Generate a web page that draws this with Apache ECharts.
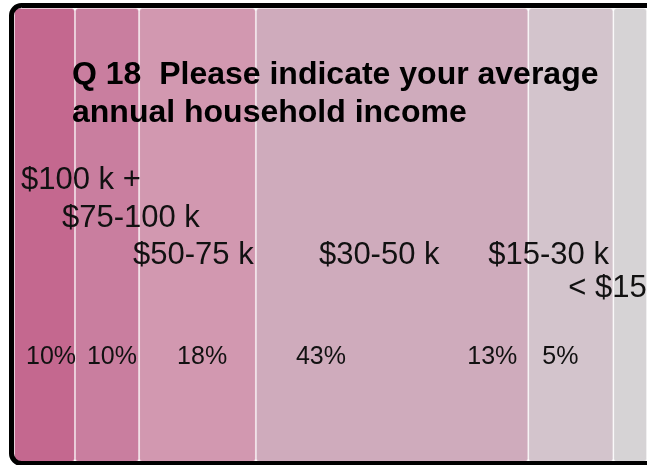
<!DOCTYPE html>
<html lang="en">
  <head>
    <meta charset="UTF-8" />
    <title>Q 18 household income</title>
    <style>
      * {
        margin: 0;
        padding: 0;
      }
      html,
      body {
        width: 100%;
        height: 100%;
        background: #fff;
      }
      #chart {
        width: 647px;
        height: 465px;
      }
    </style>
    <script src="https://cdn.jsdelivr.net/npm/echarts@6/dist/echarts.min.js"></script>
  </head>
  <body>
    <div id="chart"></div>
    <script>
      // income brackets, highest first
      var categories = ["$100 k +", "$75-100 k", "$50-75 k", "$30-50 k", "$15-30 k", "< $15 k"];
      var shares = [9.6, 10.1, 18.4, 42.9, 13.4, 5.3];
      var colors = ["#c4688f", "#c97e9f", "#d298b0", "#cfabbc", "#d3c4cc", "#d6d3d5"];

      // label placement relative to each band's left/top edge
      var pctDx = [12, 12, 38, 40, -61, -71];
      var pctDy = 337;
      var nameDx = [7, -13, -6, 63, -40, -45];
      var nameDy = [157, 195, 232, 232, 232, 265];

      var total = shares.reduce(function (a, b) {
        return a + b;
      }, 0);
      var font = "Liberation Sans, Arial, sans-serif";

      var series = [];
      shares.forEach(function (v, i) {
        // coloured band + percentage
        series.push({
          name: categories[i],
          type: "bar",
          stack: "share",
          barWidth: "100%",
          silent: true,
          itemStyle: {
            color: colors[i],
            borderColor: "rgba(255,255,255,0.3)",
            borderWidth: 1,
            borderRadius: 3,
          },
          label: {
            show: true,
            position: [pctDx[i], pctDy],
            formatter: function (p) {
              return Math.round(p.value) + "%";
            },
            color: "#111",
            fontFamily: font,
            fontSize: 25,
            lineHeight: 25,
          },
          data: [v],
        });
        // invisible twin band carrying the bracket name
        series.push({
          name: categories[i] + " label",
          type: "bar",
          stack: "names",
          yAxisIndex: 1,
          barWidth: "100%",
          silent: true,
          itemStyle: { color: "transparent" },
          label: {
            show: true,
            position: [nameDx[i], nameDy[i]],
            formatter: categories[i],
            color: "#111",
            fontFamily: font,
            fontSize: 31,
            lineHeight: 31,
          },
          data: [v],
        });
      });

      var option = {
        backgroundColor: "#fff",
        animation: false,
        title: {
          text: "Q 18  Please indicate your average\nannual household income",
          left: 72,
          top: 56,
          padding: 0,
          textStyle: {
            color: "#000",
            fontFamily: font,
            fontWeight: "bold",
            fontSize: 32,
            lineHeight: 38,
          },
        },
        grid: { left: 14, right: 0, top: 8, bottom: 3 },
        xAxis: { type: "value", min: 0, max: total, show: false },
        yAxis: [
          { type: "category", data: ["Q18"], show: false },
          { type: "category", data: ["Q18"], show: false },
        ],
        series: series,
        graphic: [
          {
            // rounded black frame
            type: "rect",
            z: 100,
            silent: true,
            shape: { x: 11.5, y: 5.5, width: 700, height: 458, r: 10 },
            style: { fill: null, stroke: "#000", lineWidth: 5 },
          },
        ],
      };

      var myChart = echarts.init(document.getElementById("chart"));
      myChart.setOption(option);
    </script>
  </body>
</html>
